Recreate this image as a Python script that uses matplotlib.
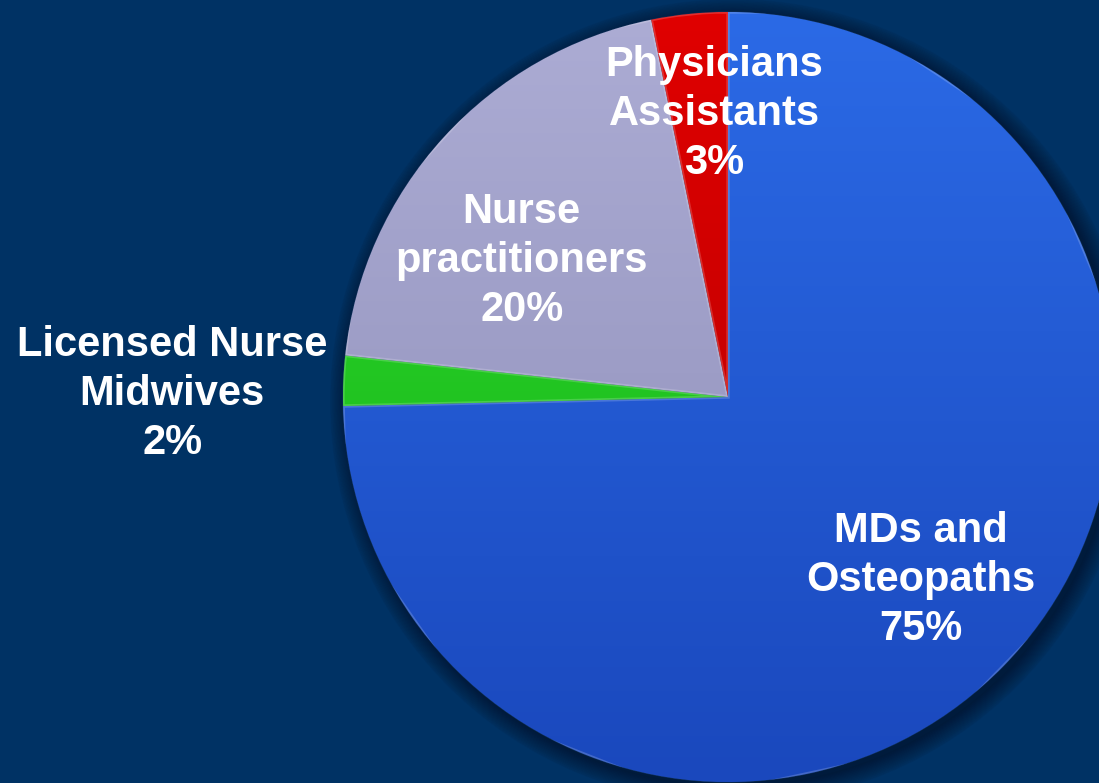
import numpy as np
import matplotlib
matplotlib.use("Agg")
import matplotlib.pyplot as plt
from matplotlib.colors import LinearSegmentedColormap

# data
labels = ["MDs and\nOsteopaths", "Licensed Nurse\nMidwives", "Nurse\npractitioners", "Physicians\nAssistants"]
shares = [74.7, 2.1, 20.1, 3.2]
top_colors = ["#2b6ae6", "#2ee02e", "#acacd4", "#e00000"]
bottom_colors = ["#1a48bd", "#15a915", "#8c8cb6", "#b00000"]

# where each label sits (fraction of radius, angle in degrees)
label_pos = [(0.692, -43.5), (1.444, 179.7), (0.642, 146.6), (0.737, 92.8)]

bg = "#003264"
W, H = 1099, 783
cx, cy, R = 728, 397, 385   # pie centre / radius in pixels

fig = plt.figure(figsize=(W / 100, H / 100), dpi=100, facecolor=bg)
ax = fig.add_axes([0, 0, 1, 1])
ax.set_facecolor(bg)

# soft drop shadow
for k in range(12):
    sh = plt.Circle((0.012, -0.012), 1.0 + 0.004 * k, color="black", alpha=0.035, zorder=0)
    ax.add_patch(sh)

wedges, _ = ax.pie(shares, startangle=90, counterclock=False, radius=1.0,
                   colors=top_colors,
                   wedgeprops=dict(linewidth=0.8, edgecolor="#10305a"))

# vertical gradient inside each wedge
yy = np.linspace(1, 0, 256).reshape(-1, 1) * np.ones((1, 2))
for w, c0, c1 in zip(wedges, top_colors, bottom_colors):
    cmap = LinearSegmentedColormap.from_list("g", [c1, c0])
    im = ax.imshow(yy, cmap=cmap, extent=[-1, 1, -1, 1], aspect="auto",
                   origin="upper", zorder=w.get_zorder() + 0.1, interpolation="bilinear")
    im.set_clip_path(w)
    # bevel highlight along the edge
    hl = plt.Polygon(w.get_path().vertices, closed=True, fill=False,
                     edgecolor="white", alpha=0.18, linewidth=2.5,
                     zorder=w.get_zorder() + 0.2)
    ax.add_patch(hl)
    hl.set_clip_path(w)

for lab, v, (r, a) in zip(labels, shares, label_pos):
    x = r * np.cos(np.radians(a))
    y = r * np.sin(np.radians(a))
    ax.text(x, y, f"{lab}\n{v:.0f}%", ha="center", va="center", color="white",
            fontsize=30, fontweight="bold", family="Liberation Sans",
            linespacing=1.29, zorder=10)

ax.set_xlim(-cx / R, (W - cx) / R)
ax.set_ylim(-(H - cy) / R, cy / R)
ax.set_aspect("auto")
ax.axis("off")

fig.savefig("out.png", dpi=100, facecolor=bg)
